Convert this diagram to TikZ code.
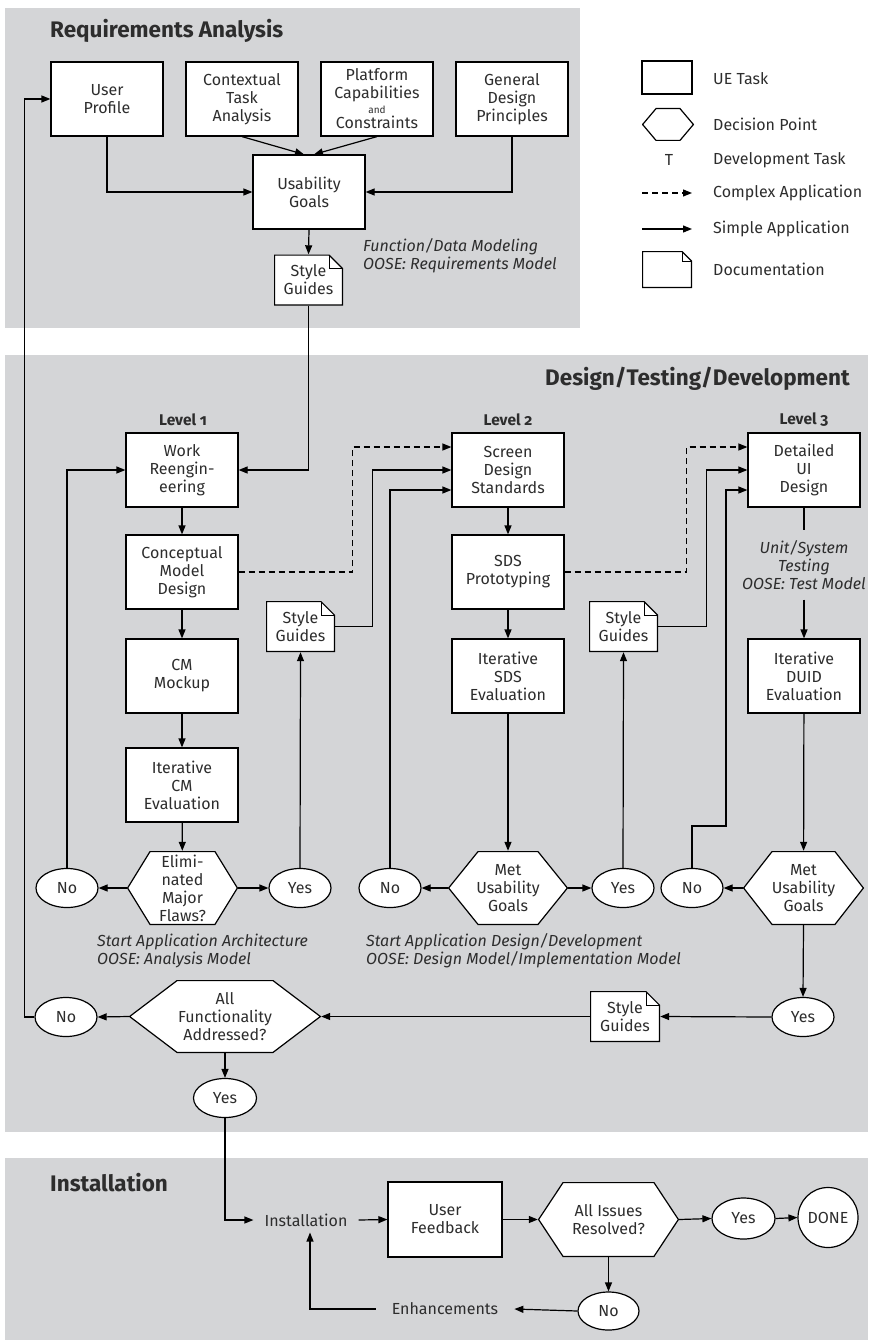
\documentclass[tikz,border=0pt]{standalone}
\usepackage{fontspec}
\setmainfont{Fira Sans}[Numbers=OldStyle]
\usetikzlibrary{shapes}
\usetikzlibrary{positioning}
\usetikzlibrary{arrows.meta}
\definecolor{panelgray}{RGB}{212,213,215}
\definecolor{inkgray}{RGB}{45,45,45}
\newcommand{\bodyfont}{\fontsize{16}{18}\selectfont}
\newcommand{\notefont}{\fontsize{16}{17.8}\selectfont\itshape}
\newcommand{\ptitlefont}{\fontsize{22.5}{26}\selectfont\bfseries}
\newcommand{\levelfont}{\fontsize{15.5}{18}\selectfont\bfseries}
\tikzset{
    hexcut/.store in=\hexcut, hexcut=24pt,
    foldsize/.store in=\foldsize, foldsize=14pt,
    uetask/.style = {rectangle, line width=1.2pt, draw=black, fill=white, align=center, minimum width=112pt, minimum height=74pt, inner sep=0pt, text=inkgray, font=\bodyfont},
    decision/.style = {rectangle, align=center, minimum height=74pt, inner sep=0pt, text=inkgray, font=\bodyfont,
        path picture={\draw[line width=1.2pt, fill=white]
            ([xshift=0.6pt]path picture bounding box.west)
            -- ([xshift=\hexcut, yshift=-0.6pt]path picture bounding box.north west)
            -- ([xshift=-\hexcut, yshift=-0.6pt]path picture bounding box.north east)
            -- ([xshift=-0.6pt]path picture bounding box.east)
            -- ([xshift=-\hexcut, yshift=0.6pt]path picture bounding box.south east)
            -- ([xshift=\hexcut, yshift=0.6pt]path picture bounding box.south west) -- cycle;}},
    docnode/.style = {rectangle, align=center, minimum width=69pt, minimum height=51pt, inner sep=0pt, text=inkgray, font=\bodyfont,
        path picture={\draw[line width=1.2pt, fill=white]
            ([xshift=0.6pt, yshift=0.6pt]path picture bounding box.south west)
            -- ([xshift=0.6pt, yshift=-0.6pt]path picture bounding box.north west)
            -- ([xshift=-\foldsize, yshift=-0.6pt]path picture bounding box.north east)
            -- ([xshift=-0.6pt, yshift=-\foldsize]path picture bounding box.north east)
            -- ([xshift=-0.6pt, yshift=0.6pt]path picture bounding box.south east) -- cycle;
            \draw[line width=0.5pt] ([xshift=-\foldsize, yshift=-0.6pt]path picture bounding box.north east)
            |- ([xshift=-0.6pt, yshift=-\foldsize]path picture bounding box.north east);}},
    answer/.style = {ellipse, line width=1.2pt, draw=black, fill=white, minimum width=62pt, minimum height=39pt, inner sep=0pt, text=inkgray, font=\bodyfont},
    note/.style = {align=left, anchor=west, inner sep=0pt, text=inkgray, font=\notefont},
    ptitle/.style = {inner sep=0pt, text=inkgray, font=\ptitlefont},
    level/.style = {inner sep=0pt, text=inkgray, font=\levelfont},
    plain/.style = {text=inkgray, font=\bodyfont},
    edgea/.style = {-{Triangle[length=9pt,width=7pt]}, line width=1.2pt, black},
    edged/.style = {edgea, dash pattern=on 6pt off 4pt},
    edgel/.style = {-, line width=1.2pt, black}
}

\begin{document}
\begin{tikzpicture}[x=1pt, y=-1pt]
\useasboundingbox (0,0) rectangle (868,1343);
% panels
\fill[panelgray] (5,8) rectangle (580,328);
\fill[panelgray] (5,355) rectangle (868,1132);
\fill[panelgray] (5,1158) rectangle (868,1340);

% requirements analysis
\node[ptitle, anchor=west] at (50,31) (tra) {Requirements Analysis};
\node[uetask] at (107,99) (up) {User\\Profile};
\node[uetask] at (242,99) (cta) {Contextual\\Task\\Analysis};
\node[uetask] at (377,99) (pcc) {Platform\\Capabilities\\[-3pt]{\fontsize{10}{11}\selectfont and}\\[-3pt]Constraints};
\node[uetask] at (512,99) (gdp) {General\\Design\\Principles};
\node[uetask] at (309,192) (ug) {Usability\\Goals};
\node[docnode] at (308.5,280) (sg0) {Style\\Guides};
\node[note] at (363,256) (nt0) {Function/Data Modeling\\OOSE: Requirements Model};

\draw[edgea] (up.south) |- (ug.west);
\draw[edgea] (gdp.south) |- (ug.east);
\draw[edgea] (cta.south) -- ([xshift=-5pt]ug.north);
\draw[edgea] (pcc.south) -- ([xshift=5pt]ug.north);
\draw[edgea] (ug.south) -- (sg0.north);

% legend
\node[uetask, minimum width=50pt, minimum height=33pt] at (667,77.5) (lg1) {};
\node[decision, minimum width=52pt, minimum height=33pt, hexcut=14pt] at (668,124.5) (lg2) {};
\node[plain, inner sep=0pt] at (669,160) (lg3) {T};
\coordinate (lg4a) at (642,193);
\coordinate (lg4b) at (692,193);
\coordinate (lg5a) at (642,229);
\coordinate (lg5b) at (692,229);
\node[docnode, minimum width=50pt, minimum height=37pt, foldsize=10pt] at (667,269.5) (lg6) {};
\draw[edged] (lg4a) -- (lg4b);
\draw[edgea] (lg5a) -- (lg5b);
\node[plain, anchor=west, inner sep=0pt] at (713,79) (lt1) {UE Task};
\node[plain, anchor=west, inner sep=0pt] at (713,124) (lt2) {Decision Point};
\node[plain, anchor=west, inner sep=0pt] at (713,160) (lt3) {Development Task};
\node[plain, anchor=west, inner sep=0pt] at (713,193) (lt4) {Complex Application};
\node[plain, anchor=west, inner sep=0pt] at (713,229) (lt5) {Simple Application};
\node[plain, anchor=west, inner sep=0pt] at (713,269) (lt6) {Documentation};

% design/testing/development
\node[ptitle, anchor=east] at (850,379) (tdd) {Design/Testing/Development};
\node[level] at (183,420) (lv1) {Level 1};
\node[level] at (508,420) (lv2) {Level 2};
\node[level] at (804,420) (lv3) {Level 3};

\node[uetask] at (182,470) (wr) {Work\\Reengin-\\eering};
\node[uetask] at (182,572) (cmd) {Conceptual\\Model\\Design};
\node[uetask] at (182,676) (cmm) {CM\\Mockup};
\node[uetask] at (182,785) (cme) {Iterative\\CM\\Evaluation};
\node[decision, minimum width=111pt, hexcut=23pt] at (182.5,888) (dec1) {Elimi-\\nated\\Major\\Flaws?};
\node[answer] at (67,888) (no1) {No};
\node[answer] at (300,888) (yes1) {Yes};
\node[docnode] at (300.5,626.5) (sg1) {Style\\Guides};
\node[note] at (97,951) (nt1) {Start Application Architecture\\OOSE: Analysis Model};

\node[uetask] at (508,470) (sds) {Screen\\Design\\Standards};
\node[uetask] at (508,572) (sdsp) {SDS\\Prototyping};
\node[uetask] at (508,676) (sdse) {Iterative\\SDS\\Evaluation};
\node[decision, minimum width=120pt, hexcut=30pt] at (508,888) (dec2) {Met\\Usability\\Goals};
\node[answer] at (390,888) (no2) {No};
\node[answer] at (623,888) (yes2) {Yes};
\node[docnode] at (623.5,626.5) (sg2) {Style\\Guides};
\node[note] at (366,951) (nt2) {Start Application Design/Development\\OOSE: Design Model/Implementation Model};

\node[uetask] at (804,470) (dui) {Detailed\\UI\\Design};
\node[note, anchor=center, align=center, inner xsep=0pt, inner ysep=10pt] at (804,565) (nt3) {Unit/System\\Testing\\OOSE: Test Model};
\node[uetask] at (804,676) (duie) {Iterative\\DUID\\Evaluation};
\node[decision, minimum width=121pt, hexcut=29pt] at (803.5,888) (dec3) {Met\\Usability\\Goals};
\node[answer] at (692,888) (no3) {No};
\node[answer] at (803,1017) (yes3) {Yes};
\node[docnode, minimum width=70pt] at (625,1016.5) (sg3) {Style\\Guides};
\node[decision, minimum width=192pt, minimum height=73pt, hexcut=48pt] at (225,1016.5) (decall) {All\\Functionality\\Addressed?};
\node[answer] at (66,1017) (noall) {No};
\node[answer, minimum width=63pt] at (225,1098) (yesall) {Yes};

\draw[edgea] (sg0.south) |- (wr.east);
\draw[edgea] (wr) -- (cmd);
\draw[edgea] (cmd) -- (cmm);
\draw[edgea] (cmm) -- (cme);
\draw[edgea] (cme) -- (dec1);
\draw[edgea] (dec1.west) -- (no1.east);
\draw[edgea] (dec1.east) -- (yes1.west);
\draw[edgea] (no1.north) |- (wr.west);
\draw[edgea] (yes1.north) -- (sg1.south);
\draw[edged] (cmd.east) -- ++(114,0) |- ([yshift=23pt]sds.west);
\draw[edgea] (sg1.east) -- ++(37,0) |- (sds.west);
\draw[edgea] (no2.north) |- ([yshift=-20pt]sds.west);

\draw[edgea] (sds) -- (sdsp);
\draw[edgea] (sdsp) -- (sdse);
\draw[edgea] (sdse) -- (dec2);
\draw[edgea] (dec2.west) -- (no2.east);
\draw[edgea] (dec2.east) -- (yes2.west);
\draw[edgea] (yes2.north) -- (sg2.south);
\draw[edged] (sdsp.east) -- ++(122,0) |- ([yshift=23pt]dui.west);
\draw[edgea] (sg2.east) -- ++(48,0) |- (dui.west);
\draw[edgea] (no3.north) |- ++(34,-42) |- ([yshift=-20pt]dui.west);

\draw[edgel] (dui.south) -- (nt3.north);
\draw[edgea] (nt3.south) -- (duie.north);
\draw[edgea] (duie) -- (dec3);
\draw[edgea] (dec3.west) -- (no3.east);
\draw[edgea] (dec3.south) -- (yes3.north);
\draw[edgea] (yes3.west) -- (sg3.east);
\draw[edgea] (sg3.west) -- (decall.east);
\draw[edgea] (decall.west) -- (noall.east);
\draw[edgea] (noall.west) -- ++(-10,0) |- (up.west);
\draw[edgea] (decall.south) -- (yesall.north);

% installation
\node[ptitle, anchor=west] at (50,1183) (tin) {Installation};
\node[plain, inner xsep=11pt, inner ysep=6pt] at (306,1220) (inst) {Installation};
\node[uetask, minimum width=114pt, minimum height=75pt] at (445,1219.5) (uf) {User\\Feedback};
\node[decision, minimum width=141pt, minimum height=75pt, hexcut=25pt] at (608.5,1219.5) (deciss) {All Issues\\Resolved?};
\node[answer, minimum width=63pt, minimum height=41pt] at (743.5,1218.5) (yesiss) {Yes};
\node[answer, minimum width=60pt, minimum height=60pt] at (828,1217.5) (done) {DONE};
\node[answer, minimum width=61pt, minimum height=38pt] at (608.5,1311) (noiss) {No};
\node[plain, inner xsep=16pt] at (445,1309) (enh) {Enhancements};

\draw[edgea] (yesall.south) |- (inst.west);
\draw[edgea] (inst.east) -- (uf.west);
\draw[edgea] (uf.east) -- (deciss.west);
\draw[edgea] (deciss.east) -- (yesiss.west);
\draw[edgea] (yesiss.east) -- (done.west);
\draw[edgea] (deciss.south) -- (noiss.north);
\draw[edgea] (noiss.west) -- (enh.east);
\draw[edgea] (enh.west) -| ([xshift=4pt]inst.south);

\end{tikzpicture}
\end{document}
